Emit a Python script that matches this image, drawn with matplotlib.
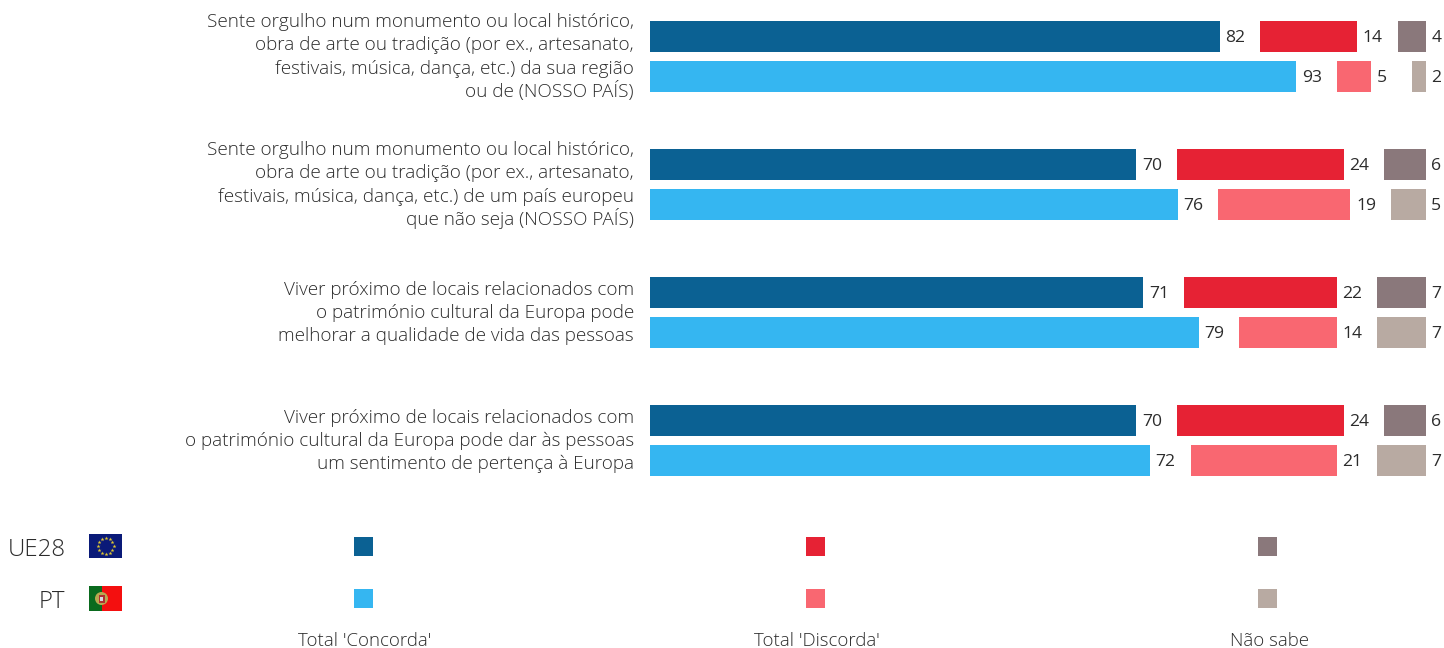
import numpy as np
import matplotlib
matplotlib.use('Agg')
import matplotlib.pyplot as plt
from matplotlib.patches import Rectangle, Circle

plt.rcParams['font.family'] = ['Open Sans', 'DejaVu Sans']

questions = [
    "Sente orgulho num monumento ou local histórico,\nobra de arte ou tradição (por ex., artesanato,\nfestivais, música, dança, etc.) da sua região\nou de (NOSSO PAÍS)",
    "Sente orgulho num monumento ou local histórico,\nobra de arte ou tradição (por ex., artesanato,\nfestivais, música, dança, etc.) de um país europeu\nque não seja (NOSSO PAÍS)",
    "Viver próximo de locais relacionados com\no património cultural da Europa pode\nmelhorar a qualidade de vida das pessoas",
    "Viver próximo de locais relacionados com\no património cultural da Europa pode dar às pessoas\num sentimento de pertença à Europa",
]
concorda_ue = [82, 70, 71, 70]
discorda_ue = [14, 24, 22, 24]
nao_sabe_ue = [4, 6, 7, 6]
concorda_pt = [93, 76, 79, 72]
discorda_pt = [5, 19, 14, 21]
nao_sabe_pt = [2, 5, 7, 7]
legend_labels = ["Total 'Concorda'", "Total 'Discorda'", "Não sabe"]
colors_ue = ['#0b6193', '#e62234', '#8a787b']
colors_pt = ['#35b6f1', '#f96771', '#b8aaa2']

W, H = 1444, 648
UNIT = 6.95  # px per percent point
X0 = 649.8
GAP = 5.82  # space between the three segments, in percent points
PITCH = 23.4  # px between the lines of a question
TXT = '#2c2c2c'


def px(x):
    return (x - X0) / UNIT


fig = plt.figure(figsize=(W / 100, H / 100), dpi=100)
ax = fig.add_axes([0, 0, 1, 1])
ax.set_xlim(px(0), px(W))
ax.set_ylim(H, 0)
ax.axis('off')

for i, q in enumerate(questions):
    top = 36.5 + 128 * i
    # lines one by one, accents would make the spacing uneven otherwise
    lines = q.split('\n')
    first = top + 19.5 - PITCH * (len(lines) - 1) / 2
    for j, line in enumerate(lines):
        ax.text(px(634), first + j * PITCH + 6, line, ha='right', va='baseline',
                fontsize=13.6, color=TXT, fontweight='light')
    rows = [(top, (concorda_ue[i], discorda_ue[i], nao_sabe_ue[i]), colors_ue),
            (top + 39.8, (concorda_pt[i], discorda_pt[i], nao_sabe_pt[i]), colors_pt)]
    for y, vals, cols in rows:
        left = 0
        for v, c in zip(vals, cols):
            ax.barh(y, v, left=left, height=31, color=c)
            ax.text(left + v + 5.5 / UNIT, y + 6, str(v), ha='left', va='baseline',
                    fontsize=12.6, color=TXT)
            left += v + GAP

# legend
for cx, label, cu, cp in zip([363.5, 815.5, 1267.5], legend_labels, colors_ue, colors_pt):
    ax.add_patch(Rectangle((px(cx - 9.5), 537), 19 / UNIT, 18.5, color=cu, lw=0))
    ax.add_patch(Rectangle((px(cx - 9.5), 589), 19 / UNIT, 18.5, color=cp, lw=0))
    ax.text(px(cx + 1.5), 641, label, ha='center', va='center', fontsize=13.4,
            color=TXT, fontweight='light')

ax.text(px(65.5), 556, 'UE28', ha='right', va='baseline', fontsize=17.3, color=TXT, fontweight='light')
ax.text(px(65.5), 608, 'PT', ha='right', va='baseline', fontsize=17.3, color=TXT, fontweight='light')

# flags
eu = fig.add_axes([89 / W, 1 - 558 / H, 33 / W, 24 / H])
eu.set_xlim(0, 33)
eu.set_ylim(24, 0)
eu.axis('off')
eu.add_patch(Rectangle((0, 0), 33, 24, color='#0a1a78', lw=0))
ang = np.arange(12) * np.pi / 6
eu.scatter(16.5 + 8 * np.cos(ang), 12 + 8 * np.sin(ang), marker='*', s=9,
           color='#e0c832', linewidths=0)

pt = fig.add_axes([89 / W, 1 - 611 / H, 33 / W, 25 / H])
pt.set_xlim(0, 33)
pt.set_ylim(25, 0)
pt.axis('off')
pt.add_patch(Rectangle((0, 0), 13, 25, color='#0a6a1e', lw=0))
pt.add_patch(Rectangle((13, 0), 20, 25, color='#f40f0f', lw=0))
pt.add_patch(Circle((12.5, 12.5), 6.5, color='#b8a850', lw=0))
pt.add_patch(Rectangle((9.5, 8.5), 6, 8, color='#b03030', lw=0))
pt.add_patch(Rectangle((11, 10.5), 3, 4, color='#d8d8e0', lw=0))

fig.savefig('out.png', dpi=100)
